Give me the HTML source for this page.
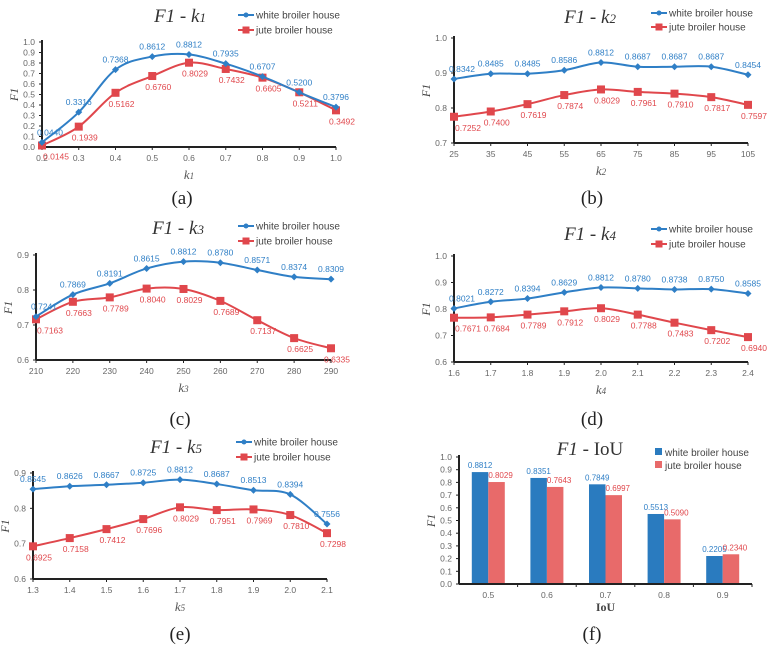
<!DOCTYPE html>
<html><head><meta charset="utf-8">
<style>
html,body{margin:0;padding:0;background:#fff;}
svg{display:block;font-family:"Liberation Sans",sans-serif;}
</style></head>
<body>
<svg id="fig" width="768" height="649" viewBox="0 0 768 649"></svg>
<script>
// ---- data ----
const aX=["0.2","0.3","0.4","0.5","0.6","0.7","0.8","0.9","1.0"];
const aWhite=[0.0440,0.3316,0.7368,0.8612,0.8812,0.7935,0.6707,0.5200,0.3796];
const aJute=[0.0145,0.1939,0.5162,0.6760,0.8029,0.7432,0.6605,0.5211,0.3492];
const aTicks=["0.0","0.1","0.2","0.3","0.4","0.5","0.6","0.7","0.8","0.9","1.0"];

const bX=["25","35","45","55","65","75","85","95","105"];
const bWhite=[0.883,0.898,0.898,0.908,0.930,0.918,0.918,0.918,0.895];
const bJute=[0.775,0.790,0.811,0.837,0.853,0.846,0.841,0.831,0.809];
const bWhiteLbl=["0.8342","0.8485","0.8485","0.8586","0.8812","0.8687","0.8687","0.8687","0.8454"];
const bJuteLbl=["0.7252","0.7400","0.7619","0.7874","0.8029","0.7961","0.7910","0.7817","0.7597"];
const bTicks=["0.7","0.8","0.9","1.0"];

const cX=["210","220","230","240","250","260","270","280","290"];
const cWhite=[0.7241,0.7869,0.8191,0.8615,0.8812,0.8780,0.8571,0.8374,0.8309];
const cJute=[0.7163,0.7663,0.7789,0.8040,0.8029,0.7689,0.7137,0.6625,0.6335];
const cTicks=["0.6","0.7","0.8","0.9"];

const dX=["1.6","1.7","1.8","1.9","2.0","2.1","2.2","2.3","2.4"];
const dWhite=[0.8021,0.8272,0.8394,0.8629,0.8812,0.8780,0.8738,0.8750,0.8585];
const dJute=[0.7671,0.7684,0.7789,0.7912,0.8029,0.7788,0.7483,0.7202,0.6940];
const dTicks=["0.6","0.7","0.8","0.9","1.0"];

const eX=["1.3","1.4","1.5","1.6","1.7","1.8","1.9","2.0","2.1"];
const eWhite=[0.8545,0.8626,0.8667,0.8725,0.8812,0.8687,0.8513,0.8394,0.7556];
const eJute=[0.6925,0.7158,0.7412,0.7696,0.8029,0.7951,0.7969,0.7810,0.7298];
const eTicks=["0.6","0.7","0.8","0.9"];

const fX=["0.5","0.6","0.7","0.8","0.9"];
const fWhite=[0.8812,0.8351,0.7849,0.5513,0.2205];
const fJute=[0.8029,0.7643,0.6997,0.5090,0.2340];
const fTicks=["0.0","0.1","0.2","0.3","0.4","0.5","0.6","0.7","0.8","0.9","1.0"];

const BLUE="#2f7fc6", RED="#e0474c", BAR_RED="#e86a6a", BAR_BLUE="#2a7bbf";
const svg=document.getElementById('fig');
const NS="http://www.w3.org/2000/svg";
function mk(tag,attrs,parent){const e=document.createElementNS(NS,tag);for(const k in attrs)e.setAttribute(k,attrs[k]);(parent||svg).appendChild(e);return e;}
function txt(s,attrs,parent){const e=mk('text',attrs,parent);e.textContent=s;return e;}

function smoothPath(pts){
  let d="M"+pts[0][0]+","+pts[0][1];
  for(let i=0;i<pts.length-1;i++){
    const p0=pts[i-1]||pts[i],p1=pts[i],p2=pts[i+1],p3=pts[i+2]||p2;
    const c1=[p1[0]+(p2[0]-p0[0])/6,p1[1]+(p2[1]-p0[1])/6];
    const c2=[p2[0]-(p3[0]-p1[0])/6,p2[1]-(p3[1]-p1[1])/6];
    d+=" C"+c1[0]+","+c1[1]+" "+c2[0]+","+c2[1]+" "+p2[0]+","+p2[1];
  }
  return d;
}

function titleEl(g,cx,y,sub,name){
  const t=mk('text',{x:cx,y:y,'text-anchor':'middle','font-family':'"Liberation Serif",serif','font-size':'19','fill':'#333'},g);
  
  
  const a=mk('tspan',{'font-style':'italic'},t);a.textContent="F1";
  const b=mk('tspan',{},t);b.textContent=" - ";
  if(sub){const c=mk('tspan',{'font-style':'italic'},t);c.textContent="k";const s=mk('tspan',{'font-size':'13','font-style':'italic'},t);s.textContent=sub;}
  else{const c=mk('tspan',{},t);c.textContent="IoU";}
}

function legend(g,x,y1,y2,bars){
  const l1=mk('g',{},g);
  
  
  const l2=mk('g',{},g);
  
  
  if(bars){
    mk('rect',{x:x,y:y1-5,width:7,height:7,fill:BAR_BLUE},l1);
    mk('rect',{x:x,y:y2-5,width:7,height:7,fill:BAR_RED},l2);
    txt("white broiler house",{x:x+10,y:y1+3,'font-size':'10','fill':'#444'},l1);
    txt("jute broiler house",{x:x+10,y:y2+3,'font-size':'10','fill':'#444'},l2);
  }else{
    mk('line',{x1:x,y1:y1,x2:x+16,y2:y1,stroke:BLUE,'stroke-width':2},l1);
    mk('circle',{cx:x+8,cy:y1,r:2.5,fill:BLUE},l1);
    mk('line',{x1:x,y1:y2,x2:x+16,y2:y2,stroke:RED,'stroke-width':2},l2);
    mk('rect',{x:x+4.5,y:y2-3.5,width:7,height:7,fill:RED},l2);
    txt("white broiler house",{x:x+18,y:y1+3.5,'font-size':'10','fill':'#444'},l1);
    txt("jute broiler house",{x:x+18,y:y2+3.5,'font-size':'10','fill':'#444'},l2);
  }
}

function axes(g,c,ticks){
  const ax=mk('g',{},g);
  
  
  mk('line',{x1:c.x0,y1:c.yTop-2,x2:c.x0,y2:c.yBot,stroke:'#222','stroke-width':2},ax);
  const tmin=parseFloat(ticks[0]),tmax=parseFloat(ticks[ticks.length-1]);
  ticks.forEach(t=>{
    const y=c.yBot-(parseFloat(t)-tmin)/(tmax-tmin)*(c.yBot-c.yTop);
    mk('line',{x1:c.x0-3,y1:y,x2:c.x0,y2:y,stroke:'#222','stroke-width':1},ax);
    const lb=txt(t,{x:c.x0-7,y:y+3,'text-anchor':'end','font-size':'8.5','fill':'#666'},ax);
    
    
  });
  const yt=txt("F1",{x:0,y:0,'font-family':'"Liberation Serif",serif','font-style':'italic','font-size':'12','fill':'#444','text-anchor':'middle',transform:`translate(${c.x0-24},${(c.yTop+c.yBot)/2}) rotate(-90)`},g);
  
  
  const xa=mk('g',{},g);
  
  
  mk('line',{x1:c.x0,y1:c.yBot,x2:c.x1,y2:c.yBot,stroke:'#222','stroke-width':2},xa);
  return {tmin,tmax,xa};
}

function linePanel(c){
  const g=mk('g',{});
  
  
  const {tmin,tmax,xa}=axes(g,c,c.ticks);
  const xs=i=>c.x0+i*(c.x1-c.x0)/(c.cats.length-1);
  const ys=v=>c.yBot-(v-tmin)/(tmax-tmin)*(c.yBot-c.yTop);
  c.cats.forEach((t,i)=>{
    mk('line',{x1:xs(i),y1:c.yBot,x2:xs(i),y2:c.yBot+3,stroke:'#222'},xa);
    const lb=txt(t,{x:xs(i),y:c.yBot+14,'text-anchor':'middle','font-size':'8.5','fill':'#666'},xa);
    
    
  });
  const xt=mk('text',{x:(c.x0+c.x1)/2,y:c.yBot+32,'text-anchor':'middle','font-family':'"Liberation Serif",serif','font-style':'italic','font-size':'13','fill':'#555'},g);
  
  
  const k1=mk('tspan',{},xt);k1.textContent="k";const k2=mk('tspan',{'font-size':'9'},xt);k2.textContent=c.sub;
  const series=[[c.jute,RED,'jute',c.juteLbl,14],[c.white,BLUE,'white',c.whiteLbl,-7]];
  series.forEach(([vals,col,nm,lbls,dy])=>{
    const pts=vals.map((v,i)=>[xs(i),ys(v)]);
    const p=mk('path',{d:smoothPath(pts),fill:'none',stroke:col,'stroke-width':2},g);
    
    
    pts.forEach((pt,i)=>{
      let m;
      if(nm==='jute'){m=mk('rect',{x:pt[0]-4,y:pt[1]-4,width:8,height:8,fill:col},g);}
      else{m=mk('path',{d:`M${pt[0]},${pt[1]-3.5} L${pt[0]+3.5},${pt[1]} L${pt[0]},${pt[1]+3.5} L${pt[0]-3.5},${pt[1]} Z`,fill:col},g);}
      
      
      const s=lbls?lbls[i]:vals[i].toFixed(4);
      const dx=(nm==='jute'?6:0)+(i===0&&c.firstShift?8:0);
      const lb=txt(s,{x:pt[0]+dx,y:pt[1]+dy,'text-anchor':'middle','font-size':'8.5','fill':col},g);
      
      
    });
  });
  titleEl(g,c.tx,c.ty,c.sub,'chart-title');
  legend(g,c.lx,c.ly1,c.ly2,false);
  const cap=txt("("+c.cap+")",{x:c.capX,y:c.capY,'text-anchor':'middle','font-family':'"Liberation Serif",serif','font-size':'19','fill':'#222'},g);
  
  
}

linePanel({name:'chart-f1-k1',cats:aX,white:aWhite,jute:aJute,ticks:aTicks,x0:42,x1:336,yTop:42,yBot:147,sub:'1',tx:180,ty:22,lx:238,ly1:15,ly2:30,cap:'a',capX:182,capY:204,firstShift:true});
linePanel({name:'chart-f1-k2',cats:bX,white:bWhite,jute:bJute,whiteLbl:bWhiteLbl,juteLbl:bJuteLbl,ticks:bTicks,x0:454,x1:748,yTop:38,yBot:143,sub:'2',tx:590,ty:23,lx:651,ly1:13,ly2:27,cap:'b',capX:592,capY:204,firstShift:true});
linePanel({name:'chart-f1-k3',cats:cX,white:cWhite,jute:cJute,ticks:cTicks,x0:36,x1:331,yTop:255,yBot:360,sub:'3',tx:178,ty:234,lx:238,ly1:226,ly2:241,cap:'c',capX:180,capY:425,firstShift:true});
linePanel({name:'chart-f1-k4',cats:dX,white:dWhite,jute:dJute,ticks:dTicks,x0:454,x1:748,yTop:256,yBot:362,sub:'4',tx:590,ty:240,lx:651,ly1:229,ly2:244,cap:'d',capX:592,capY:425,firstShift:true});
linePanel({name:'chart-f1-k5',cats:eX,white:eWhite,jute:eJute,ticks:eTicks,x0:33,x1:327,yTop:473,yBot:579,sub:'5',tx:176,ty:453,lx:236,ly1:442,ly2:457,cap:'e',capX:180,capY:640,firstShift:false});

// bar panel
(function(){
  const c={x0:459,x1:752,yTop:457,yBot:584};
  const g=mk('g',{});
  
  
  const {tmin,tmax,xa}=axes(g,c,fTicks);
  const step=(c.x1-c.x0)/fX.length;
  const xc=i=>c.x0+step*(i+0.5);
  const ys=v=>c.yBot-(v-tmin)/(tmax-tmin)*(c.yBot-c.yTop);
  const bw=16.5;
  fX.forEach((t,i)=>{
    mk('line',{x1:c.x0+step*(i+1),y1:c.yBot,x2:c.x0+step*(i+1),y2:c.yBot+3,stroke:'#222'},xa);
    const lb=txt(t,{x:xc(i),y:c.yBot+14,'text-anchor':'middle','font-size':'8.5','fill':'#666'},xa);
    
    
  });
  fWhite.forEach((v,i)=>{
    const r=mk('rect',{x:xc(i)-bw,y:ys(v),width:bw,height:c.yBot-ys(v),fill:BAR_BLUE},g);
    
    
    const lb=txt(v.toFixed(4),{x:xc(i)-bw/2,y:ys(v)-4,'text-anchor':'middle','font-size':'8','fill':BLUE},g);
    
    
  });
  fJute.forEach((v,i)=>{
    const r=mk('rect',{x:xc(i),y:ys(v),width:bw,height:c.yBot-ys(v),fill:BAR_RED},g);
    
    
    const lb=txt(v.toFixed(4),{x:xc(i)+bw/2+4,y:ys(v)-4,'text-anchor':'middle','font-size':'8','fill':RED},g);
    
    
  });
  mk('line',{x1:c.x0,y1:c.yBot,x2:c.x1,y2:c.yBot,stroke:'#222','stroke-width':2},g);
  const xt=txt("IoU",{x:(c.x0+c.x1)/2,y:c.yBot+27,'text-anchor':'middle','font-family':'"Liberation Serif",serif','font-weight':'bold','font-size':'12','fill':'#444'},g);
  
  
  titleEl(g,590,455,null,'chart-title');
  legend(g,655,453,466,true);
  const cap=txt("(f)",{x:592,y:640,'text-anchor':'middle','font-family':'"Liberation Serif",serif','font-size':'19','fill':'#222'},g);
  
  
})();
</script>
</body></html>
